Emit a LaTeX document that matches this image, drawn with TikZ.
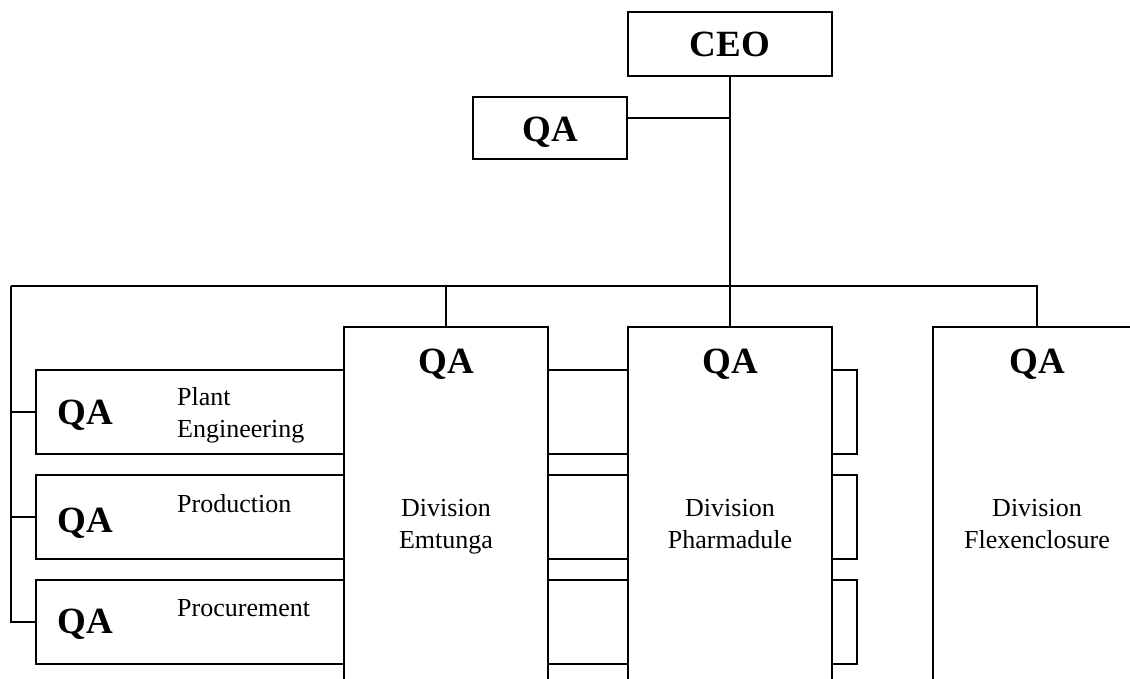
\documentclass[tikz,border=0pt]{standalone}
\usepackage{fontspec}
\setmainfont{Liberation Serif}
\begin{document}
\begin{tikzpicture}[x=1pt,y=-1pt,
  box/.style={draw, line width=2pt, inner sep=0pt},
  ln/.style={line width=2pt},
  big/.style={font=\fontsize{37}{40}\selectfont\bfseries, inner sep=0pt, anchor=base},
  txt/.style={font=\fontsize{26}{32}\selectfont, inner sep=0pt}]
\useasboundingbox (0,0) rectangle (1130,679);
\clip (0,0) rectangle (1130,679);
% top boxes
\node[box, minimum width=204pt, minimum height=64pt] (ceo) at (730,44) {};
\node[box, minimum width=154pt, minimum height=62pt] (topqa) at (550,128) {};
% division boxes (open at bottom)
\node[box, minimum width=204pt, minimum height=380pt] (emt) at (446,517) {};
\node[box, minimum width=204pt, minimum height=380pt] (pha) at (730,517) {};
\node[box, minimum width=208pt, minimum height=380pt] (flex) at (1037,517) {};
% sub boxes left
\node[box, minimum width=308pt, minimum height=84pt] (plant) at (190,412) {};
\node[box, minimum width=308pt, minimum height=84pt] (prod) at (190,517) {};
\node[box, minimum width=308pt, minimum height=84pt] (proc) at (190,622) {};
% middle boxes
\node[box, minimum width=80pt, minimum height=84pt] (m1) at (588,412) {};
\node[box, minimum width=80pt, minimum height=84pt] (m2) at (588,517) {};
\node[box, minimum width=80pt, minimum height=84pt] (m3) at (588,622) {};
% right boxes
\node[box, minimum width=25pt, minimum height=84pt] (r1) at (844.5,412) {};
\node[box, minimum width=25pt, minimum height=84pt] (r2) at (844.5,517) {};
\node[box, minimum width=25pt, minimum height=84pt] (r3) at (844.5,622) {};
% connectors
\coordinate (jq) at (730,118);
\coordinate (busL) at (11,286);
\draw[ln] (ceo.south) -- (pha.north);
\draw[ln] (topqa.east |- jq) -- (jq);
\draw[ln] (busL) -| (flex.north);
\draw[ln] (emt.north) -- (emt.north |- busL);
\draw[ln] (busL) |- (proc.west);
\draw[ln] (plant.west) -- (plant.west -| busL);
\draw[ln] (prod.west) -- (prod.west -| busL);
% texts
\node[big] (ceot) at (730,57) {CEO};
\node[big] (topqat) at (550,142) {QA};
\node[big] (qa1) at (85,424) {QA};
\node[big] (qa2) at (85,532) {QA};
\node[big] (qa3) at (85,633) {QA};
\node[txt, anchor=base west] (t1a) at (177,405) {Plant};
\node[txt, anchor=base west] (t1b) at (177,437) {Engineering};
\node[txt, anchor=base west] (t2) at (177,512) {Production};
\node[txt, anchor=base west] (t3) at (177,616) {Procurement};
\node[big] (emtqa) at (446,373) {QA};
\node[big] (phaqa) at (730,373) {QA};
\node[big] (flexqa) at (1037,373) {QA};
\node[txt, anchor=base] (emta) at (446,516) {Division};
\node[txt, anchor=base] (emtb) at (446,548) {Emtunga};
\node[txt, anchor=base] (phaa) at (730,516) {Division};
\node[txt, anchor=base] (phab) at (730,548) {Pharmadule};
\node[txt, anchor=base] (flexa) at (1037,516) {Division};
\node[txt, anchor=base] (flexb) at (1037,548) {Flexenclosure};
\end{tikzpicture}
\end{document}
